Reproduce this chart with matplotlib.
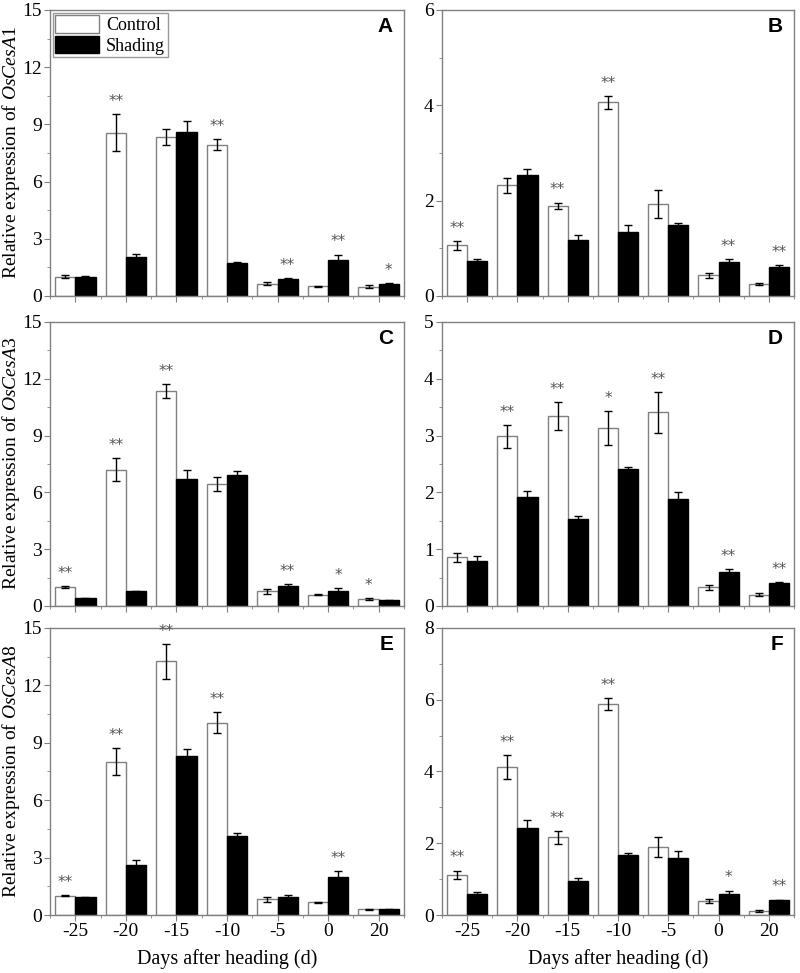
import numpy as np
import matplotlib
matplotlib.use("Agg")
from matplotlib import pyplot as plt
from matplotlib.ticker import MultipleLocator

plt.rcParams['font.family'] = ['Liberation Serif', 'DejaVu Serif']
plt.rcParams['mathtext.fontset'] = 'custom'
plt.rcParams['mathtext.rm'] = 'Liberation Serif'
plt.rcParams['mathtext.it'] = 'Liberation Serif:italic'

days = ['-25', '-20', '-15', '-10', '-5', '0', '20']

# panel A - OsCesA1
a_ctrl = [1.00, 8.57, 8.33, 7.93, 0.65, 0.51, 0.49]
a_ctrl_err = [0.08, 0.95, 0.40, 0.30, 0.07, 0.03, 0.06]
a_shade = [1.00, 2.06, 8.61, 1.71, 0.87, 1.87, 0.61]
a_shade_err = [0.04, 0.15, 0.55, 0.06, 0.05, 0.30, 0.07]
a_sig = ['', '**c', '', '**c', '**s', '**s', '*s']

# panel B
b_ctrl = [1.06, 2.32, 1.89, 4.06, 1.93, 0.43, 0.25]
b_ctrl_err = [0.10, 0.15, 0.07, 0.14, 0.30, 0.06, 0.02]
b_shade = [0.73, 2.54, 1.17, 1.35, 1.48, 0.71, 0.60]
b_shade_err = [0.05, 0.13, 0.10, 0.13, 0.06, 0.07, 0.05]
b_sig = ['**c', '', '**c', '**c', '', '**s', '**s']

# panel C - OsCesA3
c_ctrl = [0.99, 7.20, 11.36, 6.45, 0.77, 0.59, 0.37]
c_ctrl_err = [0.05, 0.60, 0.37, 0.38, 0.12, 0.03, 0.04]
c_shade = [0.40, 0.77, 6.73, 6.94, 1.08, 0.78, 0.30]
c_shade_err = [0.02, 0.03, 0.47, 0.20, 0.08, 0.15, 0.03]
c_sig = ['**c', '**c', '**c', '', '**s', '*s', '*c']

# panel D
d_ctrl = [0.855, 2.99, 3.34, 3.13, 3.41, 0.33, 0.20]
d_ctrl_err = [0.075, 0.20, 0.25, 0.30, 0.36, 0.04, 0.02]
d_shade = [0.80, 1.91, 1.54, 2.42, 1.89, 0.59, 0.40]
d_shade_err = [0.08, 0.11, 0.04, 0.03, 0.11, 0.06, 0.02]
d_sig = ['', '**c', '**c', '*c', '**c', '**s', '**s']

# panel E - OsCesA8
e_ctrl = [1.01, 8.02, 13.25, 10.05, 0.82, 0.66, 0.30]
e_ctrl_err = [0.03, 0.70, 0.90, 0.55, 0.14, 0.03, 0.02]
e_shade = [0.93, 2.62, 8.30, 4.14, 0.96, 2.01, 0.31]
e_shade_err = [0.02, 0.28, 0.40, 0.17, 0.10, 0.29, 0.03]
e_sig = ['**c', '**c', '**c', '**c', '', '**s', '']

# panel F
f_ctrl = [1.12, 4.12, 2.17, 5.88, 1.89, 0.40, 0.11]
f_ctrl_err = [0.12, 0.33, 0.18, 0.16, 0.28, 0.06, 0.03]
f_shade = [0.59, 2.42, 0.95, 1.66, 1.58, 0.59, 0.41]
f_shade_err = [0.05, 0.22, 0.07, 0.06, 0.20, 0.09, 0.02]
f_sig = ['**c', '**c', '**c', '**c', '', '*s', '**s']

panels = [
    ('A', 'OsCesA1', a_ctrl, a_ctrl_err, a_shade, a_shade_err, a_sig, 15, 3),
    ('B', None, b_ctrl, b_ctrl_err, b_shade, b_shade_err, b_sig, 6, 2),
    ('C', 'OsCesA3', c_ctrl, c_ctrl_err, c_shade, c_shade_err, c_sig, 15, 3),
    ('D', None, d_ctrl, d_ctrl_err, d_shade, d_shade_err, d_sig, 5, 1),
    ('E', 'OsCesA8', e_ctrl, e_ctrl_err, e_shade, e_shade_err, e_sig, 15, 3),
    ('F', None, f_ctrl, f_ctrl_err, f_shade, f_shade_err, f_sig, 8, 2),
]

fig = plt.figure(figsize=(8, 9.73), dpi=100)
lefts = [0.0625, 0.5525]
widths = [0.4425, 0.44]
bottoms = [0.6958, 0.3772, 0.0596]
heights = [0.294, 0.2919, 0.295]

edge = '#808080'
x = np.arange(len(days))
w = 0.4

for i, (lab, gene, ctrl, cerr, shade, serr, sig, ymax, ystep) in enumerate(panels):
    row, col = i // 2, i % 2
    ax = fig.add_axes([lefts[col], bottoms[row], widths[col], heights[row]])
    ax.bar(x - w / 2, ctrl, w, color='white', edgecolor=edge, linewidth=1.0,
           yerr=cerr, capsize=3, error_kw=dict(elinewidth=1.0, capthick=1.0, ecolor='black'),
           label='Control', zorder=2)
    ax.bar(x + w / 2, shade, w, color='black', edgecolor='black', linewidth=1.0,
           yerr=serr, capsize=3, error_kw=dict(elinewidth=1.0, capthick=1.0, ecolor='black'),
           label='Shading', zorder=2)
    for j, s in enumerate(sig):
        if not s:
            continue
        stars, side = s[:-1], s[-1]
        if side == 'c':
            xs, top = x[j] - w / 2, ctrl[j] + cerr[j]
        else:
            xs, top = x[j] + w / 2, shade[j] + serr[j]
        ax.text(xs, top + ymax * 0.018, stars, ha='center', va='bottom',
                fontsize=11, color='#555555', family='DejaVu Sans')
    ax.set_xlim(-0.5, len(days) - 0.5)
    ax.set_ylim(0, ymax)
    ax.yaxis.set_major_locator(MultipleLocator(ystep))
    ax.yaxis.set_minor_locator(MultipleLocator(ystep / 2))
    ax.set_xticks(x)
    ax.set_xticks(np.arange(len(days) + 1) - 0.5, minor=True)
    if row == 2:
        ax.set_xticklabels(days)
        ax.set_xlabel('Days after heading (d)', fontsize=14.5, labelpad=6)
    else:
        ax.set_xticklabels([])
    ax.tick_params(axis='both', which='major', direction='out', length=4,
                   color=edge, labelsize=14, pad=2)
    ax.tick_params(axis='both', which='minor', direction='out', length=2.5, color=edge)
    for sp in ax.spines.values():
        sp.set_color(edge)
        sp.set_linewidth(1.0)
    if gene:
        ax.set_ylabel('Relative expression of $\\it{' + gene + '}$', fontsize=14)
        ax.yaxis.set_label_coords(-0.08, 0.5)
    ax.text(0.969, 0.976, lab, transform=ax.transAxes, ha='right', va='top',
            fontsize=15, fontweight='bold', family='Liberation Sans')
    if lab == 'A':
        leg = ax.legend(loc='upper left', fontsize=13, frameon=True, fancybox=False,
                        borderaxespad=0.15, handlelength=2.4, handleheight=1.1,
                        handletextpad=0.4, borderpad=0.15, labelspacing=0.1)
        leg.get_frame().set_edgecolor(edge)
        leg.get_frame().set_linewidth(1.0)

fig.savefig('out.png', dpi=100)
